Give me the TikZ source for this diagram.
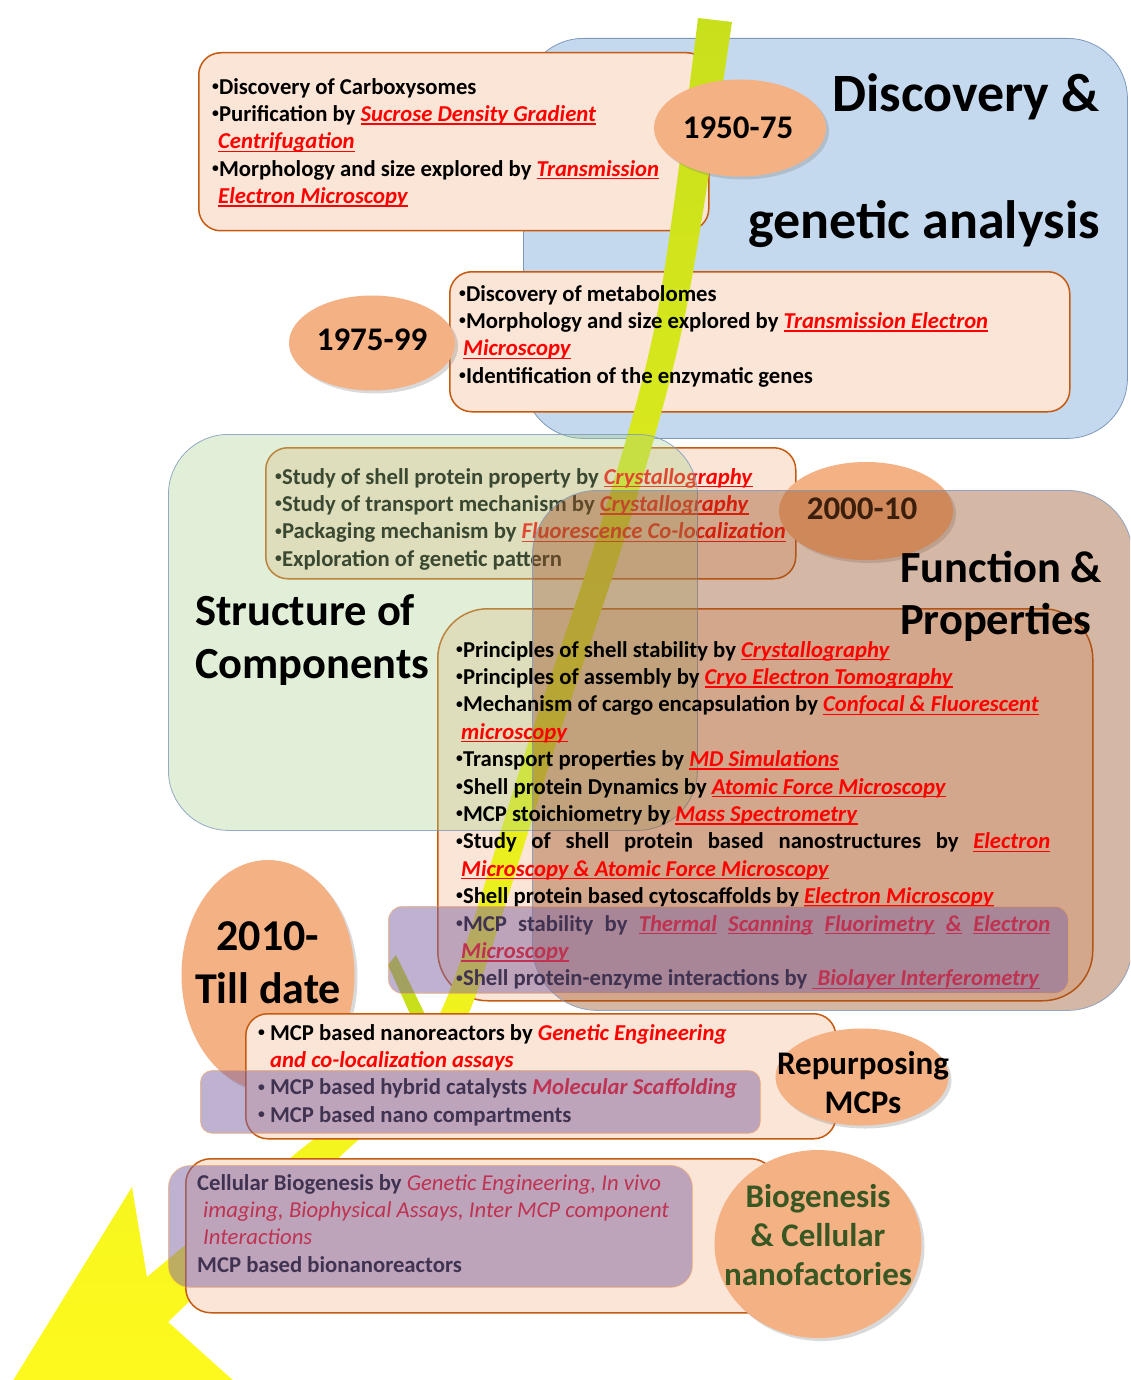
\documentclass[tikz,border=0pt]{standalone}
\usepackage{fontspec}
\usepackage{graphicx}
\setmainfont{Carlito}
\usetikzlibrary{shapes.geometric,shadows,positioning}
\definecolor{peach}{RGB}{251,229,214}
\definecolor{peachline}{RGB}{197,90,17}
\definecolor{apricot}{RGB}{244,177,131}
\definecolor{skyblue}{RGB}{197,217,238}
\definecolor{skyline}{RGB}{125,152,188}
\definecolor{leafgreen}{RGB}{169,208,142}
\definecolor{barkbrown}{RGB}{150,75,30}
\definecolor{grape}{RGB}{128,100,162}
\definecolor{techred}{RGB}{255,0,0}
\definecolor{limeband}{RGB}{200,224,28}
\definecolor{lemon}{RGB}{255,250,30}
\definecolor{darkleaf}{RGB}{56,87,35}
\newsavebox{\techbox}
\newcommand{\tech}[1]{\textcolor{techred}{\sbox{\techbox}{\textit{#1}}%
  \rlap{\rule[-3pt]{\wd\techbox}{1.4pt}}\usebox{\techbox}}}
\newcommand{\redit}[1]{\textcolor{techred}{\textit{#1}}}
\newcommand{\bul}{\makebox[0.3em][l]{\raisebox{0.17em}{\scalebox{0.6}{•}}}}
\begin{document}
\begin{tikzpicture}[x=1pt, y=-1pt,
  zone/.style={anchor=north west, inner sep=0pt, line width=0.8pt, rounded corners=60pt},
  notebox/.style={anchor=north west, inner sep=0pt, draw=peachline, line width=1.5pt,
    fill=peach, rounded corners=22pt},
  veil/.style={anchor=north west, inner sep=0pt, fill=grape, fill opacity=0.5,
    draw=orange!70, draw opacity=0.5, line width=0.8pt, rounded corners=14pt},
  yearblob/.style={ellipse, fill=apricot, inner sep=0pt,
    drop shadow={shadow xshift=3pt, shadow yshift=-3pt, opacity=0.3}},
  yeartext/.style={inner sep=0pt, align=center, font=\fontsize{33}{39}\selectfont\bfseries},
  txt/.style={anchor=north west, inner sep=0pt, align=left,
    font=\fontsize{22.7}{27.4}\selectfont\bfseries},
  heading/.style={inner sep=0pt, font=\fontsize{44.5}{53}\selectfont\bfseries}]
  \useasboundingbox (0,0) rectangle (1130,1380);
  \clip (0,0) rectangle (1130,1380);

  % big background zone
  \node[zone, fill=skyblue, draw=skyline, minimum width=604, minimum height=400] (discozone) at (523,38) {};

  % note boxes
  \node[notebox, minimum width=510, minimum height=178] (box1) at (198,52) {};
  \node[notebox, minimum width=620, minimum height=140] (box2) at (449,271) {};
  \node[notebox, minimum width=530, minimum height=131] (box3) at (265,447) {};
  \node[notebox, minimum width=655, minimum height=392, rounded corners=50pt] (box4) at (437,608) {};

  % timeline band and arrow head
  \fill[limeband] (388,965) -- (396,955) -- (440,1045) -- (424,1045) -- cycle;
  \shade[top color=limeband, middle color=limeband, bottom color=lemon]
    plot[smooth] coordinates {(698,18) (656,320) (596,540) (526,750) (446,1000)
      (385,1085) (300,1150) (147,1277)}
    -- (132,1187) -- (-10,1418) -- (255,1400) -- (168,1322)
    -- plot[smooth] coordinates {(168,1322) (345,1152) (432,1075) (474,1000)
      (554,750) (624,540) (684,320) (732,22)}
    -- cycle;

  % texts under the veils
  \node[txt] (notes1) at (212,78) {%
    \bul Discovery of Carboxysomes\\
    \bul Purification by \tech{Sucrose Density Gradient}\\
    \hspace*{6pt}\tech{Centrifugation}\\
    \bul Morphology and size explored by \tech{Transmission}\\
    \hspace*{6pt}\tech{Electron Microscopy}};
  \node[txt] (notes2) at (459,285) {%
    \bul Discovery of metabolomes\\
    \bul Morphology and size explored by \tech{Transmission Electron}\\
    \hspace*{4pt}\tech{Microscopy}\\
    \bul Identification of the enzymatic genes};
  \node[txt] (notes3) at (275,468) {%
    \bul Study of shell protein property by \tech{Crystallography}\\
    \bul Study of transport mechanism by \tech{Crystallography}\\
    \bul Packaging mechanism by \tech{Fluorescence Co-localization}\\
    \bul Exploration of genetic pattern};

  \node[yearblob, minimum width=172, minimum height=97] (y1950) at (740,128) {};
  \node[yeartext] (t1950) at (738,128) {1950-75};
  \node[yearblob, minimum width=166, minimum height=95] (y1975) at (372,343) {};
  \node[yeartext] (t1975) at (372,340) {1975-99};

  % green zone
  \node[zone, fill=leafgreen, fill opacity=0.35, draw=skyline, draw opacity=0.8,
    minimum width=529, minimum height=396] (structzone) at (168,434) {};

  \node[yearblob, minimum width=174, minimum height=98] (y2000) at (866,511) {};
  \node[yeartext] (t2000) at (862,509) {2000-10};

  % brown zone
  \node[zone, fill=barkbrown, fill opacity=0.4, draw=skyline, draw opacity=0.8,
    rounded corners=65pt, minimum width=600, minimum height=520] (funczone) at (532,490) {};

  \node[txt] (notes4) at (456,641) {%
    \bul Principles of shell stability by \tech{Crystallography}\\
    \bul Principles of assembly by \tech{Cryo Electron Tomography}\\
    \bul Mechanism of cargo encapsulation by \tech{Confocal \& Fluorescent}\\
    \hspace*{5pt}\tech{microscopy}\\
    \bul Transport properties by \tech{MD Simulations}\\
    \bul Shell protein Dynamics by \tech{Atomic Force Microscopy}\\
    \bul MCP stoichiometry by \tech{Mass Spectrometry}\\
    \makebox[594pt][s]{\bul Study of shell protein based nanostructures by \tech{Electron}}\\
    \hspace*{5pt}\tech{Microscopy \& Atomic Force Microscopy}\\
    \bul Shell protein based cytoscaffolds by \tech{Electron Microscopy}\\
    \makebox[594pt][s]{\bul MCP stability by \tech{Thermal} \tech{Scanning} \tech{Fluorimetry} \tech{\&} \tech{Electron}}\\
    \hspace*{5pt}\tech{Microscopy}\\
    \bul Shell protein-enzyme interactions by \tech{\ Biolayer Interferometry}};

  % later years
  \node[yearblob, minimum width=173, minimum height=230] (y2010) at (268,975) {};
  \node[notebox, minimum width=590, minimum height=125] (box5) at (245,1013) {};
  \node[notebox, minimum width=590, minimum height=154, rounded corners=25pt] (box6) at (185,1158) {};
  \node[yearblob, minimum width=173, minimum height=97] (yrepurp) at (862,1077) {};
  \node[yearblob, minimum width=207, minimum height=188] (ybio) at (818,1244) {};

  \node[txt] (notes5) at (258,1024) {%
    \bul\ MCP based nanoreactors by \redit{Genetic Engineering}\\
    \hspace*{12pt}\redit{and co-localization assays}\\
    \bul\ MCP based hybrid catalysts \redit{Molecular Scaffolding}\\
    \bul\ MCP based nano compartments};
  \node[txt] (notes6) at (197,1174) {%
    Cellular Biogenesis by \redit{\mdseries Genetic Engineering, In vivo}\\
    \hspace*{6pt}\redit{\mdseries imaging, Biophysical Assays, Inter MCP component}\\
    \hspace*{6pt}\redit{\mdseries Interactions}\\
    MCP based bionanoreactors};

  \node[yeartext, font=\fontsize{44}{53}\selectfont\bfseries] (t2010) at (268,963) {2010-\\Till date};
  \node[yeartext] (trepurp) at (863,1083) {Repurposing\\MCPs};
  \node[yeartext, text=darkleaf] (tbio) at (818,1235) {Biogenesis\\\& Cellular\\nanofactories};

  % headings
  \node[heading, anchor=base east, font=\fontsize{54}{60}\selectfont\bfseries] (hdisc) at (1100,112) {Discovery \&};
  \node[heading, anchor=base east, font=\fontsize{54}{60}\selectfont\bfseries] (hgene) at (1100,239) {genetic analysis};
  \node[heading, anchor=base west] (hstruct) at (195,625) {Structure of};
  \node[heading, anchor=base west] (hcomp) at (195,678) {Components};
  \node[heading, anchor=base west] (hfunc) at (900,582) {Function \&};
  \node[heading, anchor=base west] (hprop) at (900,634) {Properties};

  % purple veils
  \node[veil, minimum width=680, minimum height=87] (veil1) at (388,906) {};
  \node[veil, minimum width=560, minimum height=63, rounded corners=12pt] (veil2) at (200,1070) {};
  \node[veil, minimum width=524, minimum height=122, rounded corners=22pt] (veil3) at (168,1165) {};
\end{tikzpicture}
\end{document}
